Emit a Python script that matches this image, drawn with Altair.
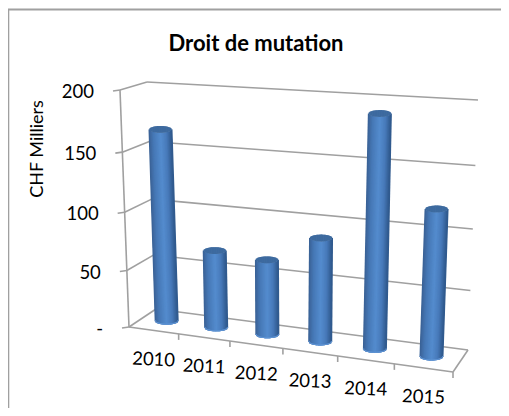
import altair as alt
import pandas as pd

years = ["2010", "2011", "2012", "2013", "2014", "2015"]
values = [166, 68, 65, 88, 190, 120]
y_levels = [0, 50, 100, 150, 200]
y_labels = ["-", "50", "100", "150", "200"]
title = "Droit de mutation"
y_title = "CHF Milliers"

# Projection of the Excel 3-D box (category u, value v, depth d) onto the page
FBL, FBR, BBL, BBR = (129, 327), (453, 372), (156, 309), (468, 350)
FTL, FTR, BTL, BTR = (120, 90), (464, 111), (147, 82), (478, 100)


def lerp(a, b, t):
    return a + (b - a) * t


def project(u, v, d):
    gu = u / (1.105 - 0.105 * u)
    t = v / 200
    fv = t / (1.066 - 0.066 * t)
    out = []
    for k in (0, 1):
        fb = lerp(FBL[k], FBR[k], gu)
        bb = lerp(BBL[k], BBR[k], gu)
        ft = lerp(FTL[k], FTR[k], gu)
        bt = lerp(BTL[k], BTR[k], gu)
        out.append(lerp(lerp(fb, bb, d), lerp(ft, bt, d), fv))
    return out


def seg(p, q, color="#A0A0A0", w=1.6):
    return dict(x=p[0], y=p[1], x2=q[0], y2=q[1], c=color, w=w)


grid = []
for lv in y_levels:
    a, b, c = project(0, lv, 0), project(0, lv, 1), project(1, lv, 1)
    grid.append(seg(a, b))
    grid.append(seg(b, c))
    grid.append(seg((a[0] - 7, a[1] + 1), a))
grid.append(seg(project(0, 0, 0), project(0, 200, 0)))
grid.append(seg(project(0, 0, 0), project(1, 0, 0)))
grid.append(seg(project(1, 0, 0), project(1, 0, 1)))
for i in range(1, 7):
    p = project(i / 6, 0, 0)
    grid.append(seg(p, (p[0], p[1] + 6)))

STOPS = [(-1, (58, 98, 150)), (-0.6, (70, 120, 182)), (0.05, (84, 140, 206)),
         (0.55, (72, 122, 186)), (1, (48, 90, 142))]


def shade(a):
    for (a0, c0), (a1, c1) in zip(STOPS, STOPS[1:]):
        if a <= a1:
            t = (a - a0) / (a1 - a0)
            return "#%02x%02x%02x" % tuple(round(lerp(x, y, t)) for x, y in zip(c0, c1))
    return "#305a8e"


strips = []
R, E, N = 11.2, 3.4, 16
for i, val in enumerate(values):
    u = (i + 0.5) / 6
    bot = project(u, 0, 0.5)
    top = project(u, val, 0.5)
    for k in range(-N, N + 1):
        a = k / N
        h = (1 - a * a) ** 0.5 * E
        xt, xb = top[0] + a * R, bot[0] + a * R
        strips.append(seg((xt, top[1] + h), (xb, bot[1] + h), shade(a), 1.6))
    for k in range(-N, N + 1):
        a = k / N
        h = (1 - a * a) ** 0.5 * E
        xb = bot[0] + a * R
        strips.append(seg((xb, bot[1] + h - 1.0), (xb, bot[1] + h), "#5d92d2", 1.4))
        xt = top[0] + a * R
        strips.append(seg((xt, top[1] - h), (xt, top[1] + h), "#3d6a9f", 1.4))

FRAME = "#A0A0A0"
frame = [seg((8.5, 9), (8.5, 408), FRAME, 1.6), seg((8, 9.5), (501, 9.5), FRAME, 2)]

xs = alt.Scale(domain=[8, 501], range=[0, 493])
ys = alt.Scale(domain=[8, 408], range=[0, 400])


def rules(rows):
    return alt.Chart(pd.DataFrame(rows)).mark_rule(clip=True).encode(
        x=alt.X("x:Q", scale=xs, axis=None),
        y=alt.Y("y:Q", scale=ys, axis=None),
        x2="x2:Q", y2="y2:Q",
        color=alt.Color("c:N", scale=None),
        strokeWidth=alt.StrokeWidth("w:Q", scale=None),
    )


FONT = "Lato"
cat_rows = []
for i, yr in enumerate(years):
    p = project((i + 0.5) / 6, 0, 0)
    cat_rows.append(dict(t=yr, x=p[0], y=p[1] + 29))
val_rows = []
for lv, lab in zip(y_levels, y_labels):
    p = project(0, lv, 0)
    val_rows.append(dict(t=lab, x=p[0] - 26, y=p[1] + 2))


def texts(rows, **kw):
    return alt.Chart(pd.DataFrame(rows)).mark_text(font=FONT, color="#000000", **kw).encode(
        x=alt.X("x:Q", scale=xs, axis=None),
        y=alt.Y("y:Q", scale=ys, axis=None),
        text="t:N",
    )


chart = alt.layer(
    rules(frame),
    rules(grid),
    rules(strips),
    texts(cat_rows, fontSize=18.5, angle=2.5, align="center", baseline="middle"),
    texts(val_rows, fontSize=18.5, align="right", baseline="middle"),
    texts([dict(t=y_title, x=38, y=149)], fontSize=18, angle=270, align="center", baseline="middle"),
    texts([dict(t=title, x=256, y=44)], fontSize=22, fontWeight="bold", align="center", baseline="middle"),
).properties(width=493, height=400, padding=0, autosize=alt.AutoSizeParams(type="none")).configure_view(stroke=None)

chart.save("out.html", embed_options={"renderer": "svg", "actions": False})
